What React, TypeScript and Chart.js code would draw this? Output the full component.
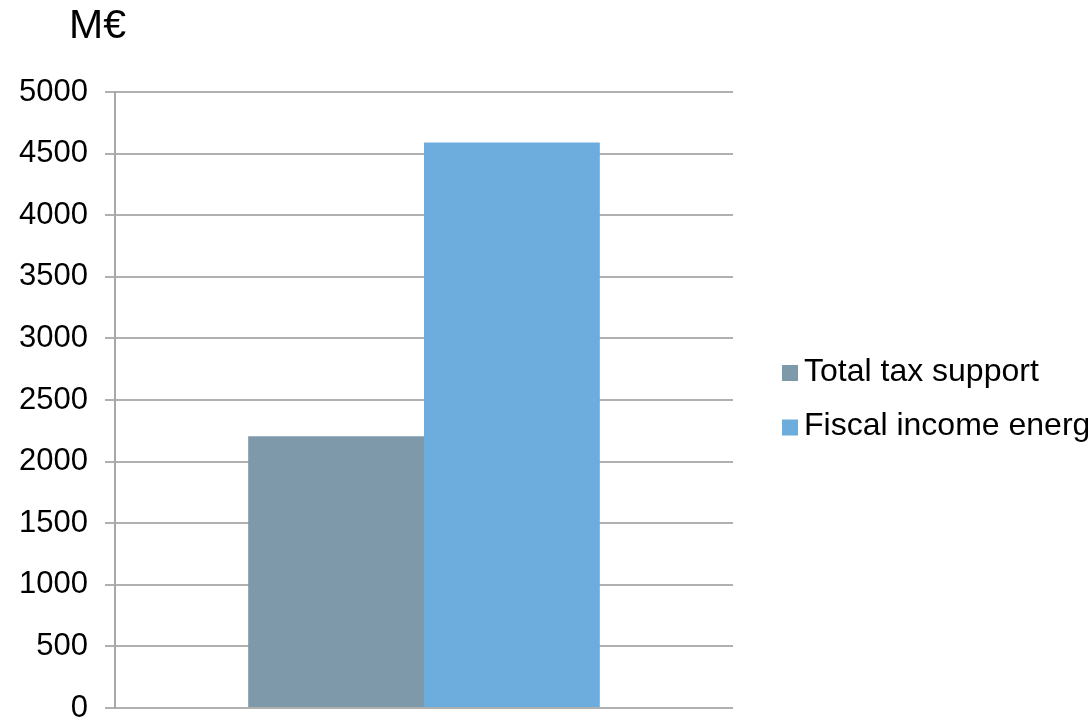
import React, { useEffect, useRef } from "react";
import { Chart, registerables } from "chart.js";

Chart.register(...registerables);

const categories = [""];
const seriesLabels = ["Total tax support", "Fiscal income energy"];
const totalTaxSupport = [2205];
const fiscalIncomeEnergy = [4590];
const seriesColors = ["#7e99aa", "#6dadde"];
const unitLabel = "M€";
const yMin = 0;
const yMax = 5000;
const yStep = 500;

const FONT = "'Liberation Sans', Arial, sans-serif";

const unitTitlePlugin = {
  id: "unitTitle",
  afterDraw(chart: any) {
    const ctx = chart.ctx;
    ctx.save();
    ctx.font = `41px ${FONT}`;
    ctx.fillStyle = "#000000";
    ctx.textAlign = "left";
    ctx.textBaseline = "alphabetic";
    ctx.fillText(unitLabel, 69, 38);
    ctx.restore();
  },
};

const sideLegendPlugin = {
  id: "sideLegend",
  afterDraw(chart: any) {
    const ctx = chart.ctx;
    ctx.save();
    ctx.font = `32px ${FONT}`;
    ctx.textAlign = "left";
    ctx.textBaseline = "middle";
    chart.data.datasets.forEach((ds: any, i: number) => {
      const cy = 373 + i * 54.5;
      ctx.fillStyle = ds.backgroundColor;
      ctx.fillRect(782, cy - 8, 16, 16);
      ctx.fillStyle = "#000000";
      ctx.fillText(ds.label, 804, cy - 1);
    });
    ctx.restore();
  },
};

export default function App() {
  const canvasRef = useRef<HTMLCanvasElement | null>(null);

  useEffect(() => {
    if (!canvasRef.current) return;
    const chart = new Chart(canvasRef.current, {
      type: "bar",
      data: {
        labels: categories,
        datasets: [
          {
            label: seriesLabels[0],
            data: totalTaxSupport,
            backgroundColor: seriesColors[0],
            borderWidth: 0,
          },
          {
            label: seriesLabels[1],
            data: fiscalIncomeEnergy,
            backgroundColor: seriesColors[1],
            borderWidth: 0,
          },
        ],
      },
      options: {
        animation: false,
        responsive: false,
        maintainAspectRatio: false,
        layout: { padding: { left: 0, top: 92, right: 355, bottom: 10 } },
        datasets: {
          bar: { barPercentage: 1, categoryPercentage: 0.569 },
        },
        plugins: {
          legend: { display: false },
          title: { display: false },
          tooltip: { enabled: false },
        },
        scales: {
          x: { display: false },
          y: {
            min: yMin,
            max: yMax,
            ticks: {
              stepSize: yStep,
              color: "#000000",
              padding: 17,
              font: { family: FONT, size: 31 },
              callback: (value: any) => String(value),
            },
            grid: {
              color: "#b0b0b0",
              lineWidth: 2,
              tickLength: 10,
              drawTicks: true,
            },
            border: { display: true, color: "#a8a8a8", width: 2 },
            afterFit(scale: any) {
              scale.width = 115;
              scale.paddingTop = 0;
              scale.paddingBottom = 0;
            },
          },
        },
      },
      plugins: [unitTitlePlugin, sideLegendPlugin],
    });
    return () => chart.destroy();
  }, []);

  return (
    <div style={{ position: "fixed", left: 0, top: 0, width: 1088, height: 718, background: "#ffffff" }}>
      <canvas ref={canvasRef} width={1088} height={718} style={{ display: "block", width: 1088, height: 718 }} />
    </div>
  );
}
